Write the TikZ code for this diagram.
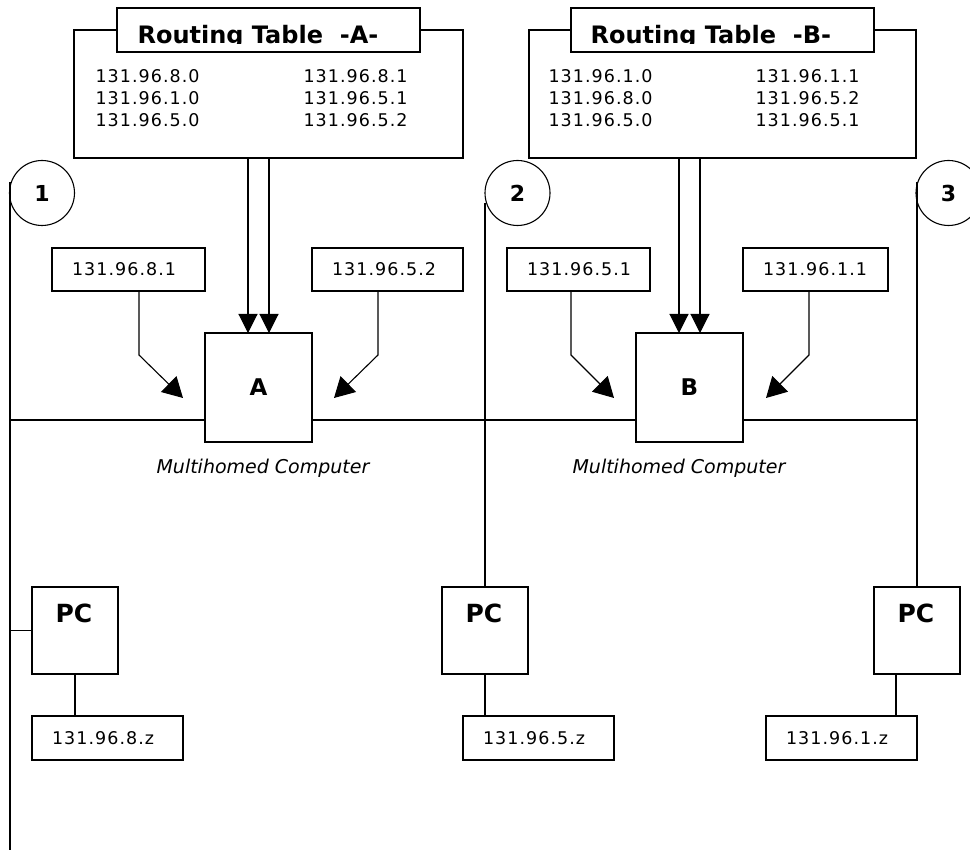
\documentclass[tikz,border=0pt]{standalone}
\usepackage{fontspec}
\setmainfont{DejaVu Sans}
\newfontfamily\addrfont[LetterSpace=6]{DejaVu Sans}
\usetikzlibrary{arrows.meta}
\begin{document}
\begin{tikzpicture}[x=1pt,y=-1pt,
  line width=1.1pt,
  box/.style={draw, fill=white, inner sep=0pt, outer sep=0pt},
  iptext/.style={anchor=west, inner sep=0pt, font=\addrfont\fontsize{17.5}{20}\selectfont},
  rowtext/.style={anchor=base west, inner sep=0pt, font=\addrfont\fontsize{17.5}{20}\selectfont},
  titletext/.style={anchor=base west, inner sep=0pt, font=\fontsize{24}{28}\selectfont\bfseries},
  hostfont/.style={font=\fontsize{23}{26}\selectfont\bfseries},
  pctext/.style={inner sep=0pt, font=\fontsize{25}{28}\selectfont\bfseries},
  caption/.style={anchor=base, inner sep=0pt, font=\fontsize{19}{22}\selectfont\itshape},
  netnum/.style={draw, circle, minimum size=65pt, inner sep=0pt, outer sep=0pt,
                 font=\fontsize{22}{25}\selectfont\bfseries},
  feed/.style={-{Triangle[length=19pt,width=19pt]}},
  inarrow/.style={-{Triangle[length=20pt,width=22pt]}},
]
\useasboundingbox (0,0) rectangle (970,850);
\clip (0,0) rectangle (970,850);

% ---------- routing tables ----------
\node[box, anchor=north west, minimum width=389pt, minimum height=128pt] (tblA) at (74,30) {};
\node[box, anchor=north west, minimum width=303pt, minimum height=44pt] (titA) at (117,8) {};
\begin{scope}
  \clip (117,8) rectangle (420,43.3);
  \node[titletext] (titAtext) at (137,44) {Routing Table~~-A-};
\end{scope}
\node[rowtext] (a1l) at (95,83)  {131.96.8.0};
\node[rowtext] (a1r) at (303,83) {131.96.8.1};
\node[rowtext] (a2l) at (95,105)  {131.96.1.0};
\node[rowtext] (a2r) at (303,105) {131.96.5.1};
\node[rowtext] (a3l) at (95,127)  {131.96.5.0};
\node[rowtext] (a3r) at (303,127) {131.96.5.2};

\node[box, anchor=north west, minimum width=387pt, minimum height=128pt] (tblB) at (529,30) {};
\node[box, anchor=north west, minimum width=303pt, minimum height=44pt] (titB) at (571,8) {};
\begin{scope}
  \clip (571,8) rectangle (874,43.3);
  \node[titletext] (titBtext) at (590,44) {Routing Table~~-B-};
\end{scope}
\node[rowtext] (b1l) at (548,83)  {131.96.1.0};
\node[rowtext] (b1r) at (755,83) {131.96.1.1};
\node[rowtext] (b2l) at (548,105)  {131.96.8.0};
\node[rowtext] (b2r) at (755,105) {131.96.5.2};
\node[rowtext] (b3l) at (548,127)  {131.96.5.0};
\node[rowtext] (b3r) at (755,127) {131.96.5.1};

% ---------- network numbers ----------
\node[netnum] (c1) at (42,193) {1};
\node[netnum] (c2) at (517.5,193) {2};
\node[netnum] (c3) at (948.5,193) {3};

% ---------- multihomed computers ----------
\node[box, hostfont, minimum width=107pt, minimum height=109pt] (A) at (258.5,387.5) {A};
\node[box, hostfont, minimum width=107pt, minimum height=109pt] (B) at (689.5,387.5) {B};
\node[caption] (capA) at (263,473) {Multihomed Computer};
\node[caption] (capB) at (679,473) {Multihomed Computer};

% interface addresses
\node[box, anchor=north west, minimum width=153pt, minimum height=43pt] (ra) at (52,248) {};
\node[iptext] (rat) at ([xshift=19.5pt]ra.west) {131.96.8.1};
\node[box, anchor=north west, minimum width=151pt, minimum height=43pt] (rb) at (312,248) {};
\node[iptext] (rbt) at ([xshift=19.5pt]rb.west) {131.96.5.2};
\node[box, anchor=north west, minimum width=143pt, minimum height=43pt] (rc) at (507,248) {};
\node[iptext] (rct) at ([xshift=19.5pt]rc.west) {131.96.5.1};
\node[box, anchor=north west, minimum width=145pt, minimum height=43pt] (rd) at (743,248) {};
\node[iptext] (rdt) at ([xshift=19.5pt]rd.west) {131.96.1.1};

% ---------- PCs ----------
\node[box, minimum width=86pt, minimum height=87pt] (pc1) at (75,630.5) {};
\node[pctext] (pc1t) at (74,613) {PC};
\node[box, minimum width=86pt, minimum height=87pt] (pc2) at (485,630.5) {};
\node[pctext] (pc2t) at (484,613) {PC};
\node[box, minimum width=86pt, minimum height=87pt] (pc3) at (917,630.5) {};
\node[pctext] (pc3t) at (916,613) {PC};

\node[box, anchor=north west, minimum width=151pt, minimum height=44pt] (l1) at (32,716) {};
\node[iptext] (l1t) at ([xshift=19.5pt]l1.west) {131.96.8.z};
\node[box, anchor=north west, minimum width=151pt, minimum height=44pt] (l2) at (463,716) {};
\node[iptext] (l2t) at ([xshift=19.5pt]l2.west) {131.96.5.z};
\node[box, anchor=north west, minimum width=151pt, minimum height=44pt] (l3) at (766,716) {};
\node[iptext] (l3t) at ([xshift=19.5pt]l3.west) {131.96.1.z};

% ---------- network cables ----------
\coordinate (b1top) at (10,182);
\coordinate (b1bot) at (10,850);
\coordinate (b2top) at (485,203);
\coordinate (b3top) at (917,182);
\coordinate (busL) at (10,420);
\coordinate (busR) at (917,420);

\draw (b1top) -- (b1bot);
\draw (b2top) -- (pc2.north);
\draw (b3top) -- (pc3.north);
\draw (busL) -- (busL -| A.west);
\draw (busL -| A.east) -- (busL -| B.west);
\draw (busL -| B.east) -- (busR);

\draw (pc1.west) -- (pc1.west -| b1top);
\draw (pc1.south) -- (pc1.south |- l1.north);
\draw (pc2.south) -- (pc2.south |- l2.north);
\draw ([xshift=-21pt]pc3.south) -- ([xshift=-21pt]pc3.south |- l3.north);

% ---------- table feeds ----------
\draw[feed] ([xshift=-10.5pt]A.north |- tblA.south) -- ([xshift=-10.5pt]A.north);
\draw[feed] ([xshift=10.5pt]A.north |- tblA.south) -- ([xshift=10.5pt]A.north);
\draw[feed] ([xshift=-10.5pt]B.north |- tblB.south) -- ([xshift=-10.5pt]B.north);
\draw[feed] ([xshift=10.5pt]B.north |- tblB.south) -- ([xshift=10.5pt]B.north);

% ---------- interface arrows ----------
\coordinate (ka) at (139,355); \coordinate (ta) at (183,398);
\coordinate (kb) at (378,355); \coordinate (tb) at (334,398);
\coordinate (kc) at (571,355); \coordinate (tc) at (614,398);
\coordinate (kd) at (809,355); \coordinate (td) at (766,398);
\draw[inarrow] (ra.south -| ka) -- (ka) -- (ta);
\draw[inarrow] (rb.south -| kb) -- (kb) -- (tb);
\draw[inarrow] (rc.south -| kc) -- (kc) -- (tc);
\draw[inarrow] (rd.south -| kd) -- (kd) -- (td);
\end{tikzpicture}
\end{document}
